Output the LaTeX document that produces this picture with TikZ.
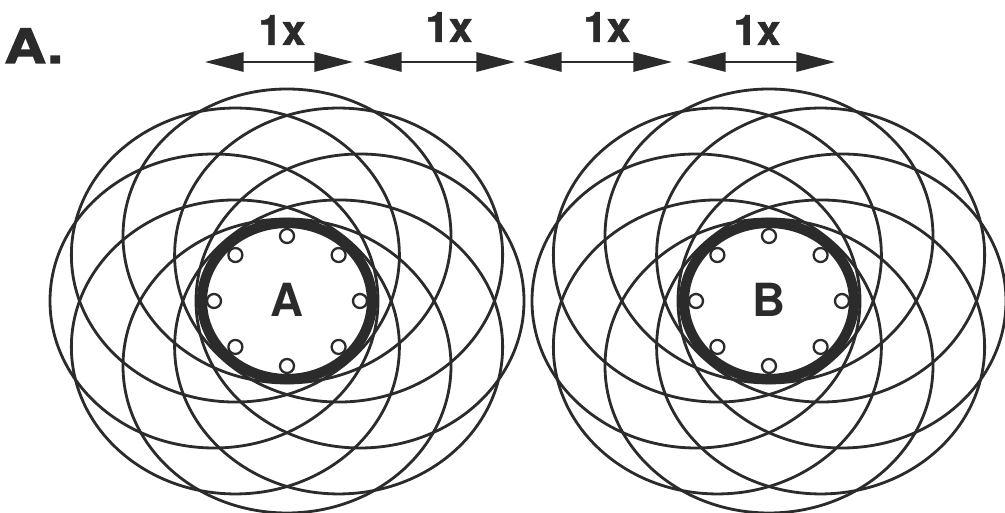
\documentclass[tikz,border=0pt]{standalone}
\usepackage{fontspec}
\setmainfont{TeX Gyre Heros}
\newfontfamily\heavyfont[FakeBold=2.5,FakeStretch=1.22]{TeX Gyre Heros Bold}
\newfontfamily\markfont[FakeBold=1.2]{TeX Gyre Heros Bold}
\usepackage{tikz}
\usetikzlibrary{arrows.meta,calc}
\definecolor{ink}{HTML}{2B2B2B}
\tikzset{
  orbit/.style={draw=ink,line width=1.6pt},
  wall/.style={draw=ink,line width=5.8pt},
  pore/.style={draw=ink,fill=white,line width=1.3pt},
  span/.style={{Triangle[length=22pt,width=11pt]}-{Triangle[length=22pt,width=11pt]},draw=ink,fill=ink,line width=1.2pt},
  tag/.style={text=ink,inner sep=0pt,anchor=base,font=\markfont\fontsize{24}{24}\selectfont},
  big/.style={text=ink,inner sep=0pt,font=\bfseries\fontsize{26}{26}\selectfont}
}

\begin{document}
\begin{tikzpicture}[x=0.02cm,y=0.02cm]
  \useasboundingbox (0,0) rectangle (1005,513);
  \node[big,anchor=base west,font=\heavyfont\fontsize{27}{27}\selectfont] (panel) at (4,450) {A.};
  % spacing arrows
  \coordinate (s1) at (205,451); \coordinate (e1) at (353,451);
  \coordinate (s2) at (363,451); \coordinate (e2) at (515,451);
  \coordinate (s3) at (523,451); \coordinate (e3) at (672,451);
  \coordinate (s4) at (687,451); \coordinate (e4) at (835,451);
  \foreach \i in {1,...,4}
    \draw[span] (s\i) -- (e\i);
  \node[tag] (k1) at (282,468) {1x};
  \node[tag] (k2) at (449,471) {1x};
  \node[tag] (k3) at (607,471) {1x};
  \node[tag] (k4) at (757,468) {1x};
  % two cells, eight orbits each
  \foreach \g/\cx in {A/287,B/769}{
    \coordinate (c\g) at (\cx,212);
    \foreach \a in {0,45,...,315}
      \draw[orbit] ($(c\g)+(\a:73 and 65)$) ellipse (164 and 147);
    \draw[wall] (c\g) ellipse (85 and 78);
    \foreach \a in {0,45,...,315}
      \draw[pore] ($(c\g)+(\a:73 and 65)$) circle (7);
    \node[big,anchor=base] (l\g) at ($(c\g)+(0,-16)$) {\g};
  }
\end{tikzpicture}
\end{document}
